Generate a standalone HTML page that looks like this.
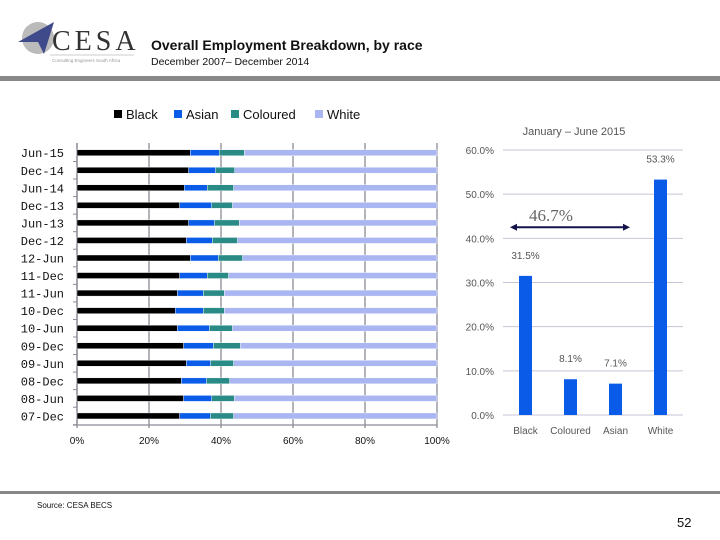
<!DOCTYPE html>
<html><head><meta charset="utf-8"><style>
body{margin:0;background:#fff;}
#wrap{position:relative;width:720px;height:540px;overflow:hidden;font-family:"Liberation Sans",sans-serif;}
</style></head><body>
<div id="wrap">
<svg id="svg" width="720" height="540" xmlns="http://www.w3.org/2000/svg">
  <g>
    <circle cx="38" cy="38" r="16" fill="#bbb"/>
    <polygon points="18,42 54,22 44,54 38,42" fill="#3f4a8a"/>
    <text x="52" y="50" font-family="Liberation Serif,serif" font-size="28" letter-spacing="4" fill="#333">CESA</text>
    <line x1="50" y1="55" x2="134" y2="55" stroke="#bbb" stroke-width="0.7"/>
    <text x="52" y="62" font-size="4.5" fill="#999">Consulting Engineers South Africa</text>
  </g>
  <text x="151" y="50" font-size="14" font-weight="bold" fill="#111">Overall Employment Breakdown, by race</text>
  <text x="151" y="65" font-size="10.5" fill="#111">December 2007– December 2014</text>
  <rect x="0" y="76" width="720" height="5" fill="#888"/>
  <g id="legend"></g>
  <g id="left"></g>
  <g id="right"></g>
  <rect x="0" y="491" width="720" height="3" fill="#888"/>
  <text x="37" y="508" font-size="8" fill="#111">Source: CESA BECS</text>
  <text x="677" y="527" font-size="13" fill="#111">52</text>
</svg>
</div>
<script>
const categories=["Jun-15","Dec-14","Jun-14","Dec-13","Jun-13","Dec-12","12-Jun","11-Dec","11-Jun","10-Dec","10-Jun","09-Dec","09-Jun","08-Dec","08-Jun","07-Dec"];
const blackVals=[31.5,31.0,29.8,28.5,31.0,30.4,31.5,28.5,27.9,27.3,27.9,29.6,30.4,29.0,29.6,28.5];
const asianVals=[8.0,7.5,6.4,8.9,7.2,7.2,7.8,7.7,7.2,7.8,8.9,8.3,6.7,7.0,7.8,8.6];
const colouredVals=[7.0,5.3,7.3,5.8,6.9,7.0,6.7,5.9,5.8,5.8,6.4,7.5,6.4,6.4,6.3,6.4];
const xTicks=[0,20,40,60,80,100];
const races=["Black","Asian","Coloured","White"];
const raceColors=["#000000","#0a5ce8","#2a8a86","#aab6f2"];
const rCats=["Black","Coloured","Asian","White"];
const rVals=[31.5,8.1,7.1,53.3];
const rLabels=["31.5%","8.1%","7.1%","53.3%"];
const yTicks=[0,10,20,30,40,50,60];

const NS="http://www.w3.org/2000/svg";
function mk(p,t,a,txt){const e=document.createElementNS(NS,t);for(const k in a)e.setAttribute(k,a[k]);if(txt!==undefined)e.textContent=txt;p.appendChild(e);return e;}

const lg=document.getElementById('legend');
const lgX=[114,174,231,315];
races.forEach((r,i)=>{
  const g=mk(lg,'g',{});
  
  
  mk(g,'rect',{x:lgX[i],y:110,width:8,height:8,fill:raceColors[i]});
  mk(g,'text',{x:lgX[i]+12,y:119,'font-size':13,fill:'#111'},r);
});

const L=document.getElementById('left');
const x0=77,x1=437,yTop=143,yBot=425;
const xs=v=>x0+(x1-x0)*v/100;
const rowY=i=>152.7+i*17.55;
xTicks.forEach(t=>{
  const ln=mk(L,'line',{x1:xs(t),x2:xs(t),y1:yTop,y2:yBot+3,stroke:'#8a8a96','stroke-width':1.3});
  
  
  const tx=mk(L,'text',{x:xs(t),y:444,'font-size':10,'text-anchor':'middle',fill:'#111'},t+'%');
  
  
});
mk(L,'line',{x1:x0,x2:x0,y1:yTop,y2:yBot,stroke:'#8a8a96','stroke-width':1.3});
mk(L,'line',{x1:x0-4,x2:x1,y1:yBot,y2:yBot,stroke:'#8a8a96','stroke-width':1.3});
categories.forEach((c,i)=>{
  const y=rowY(i);
  mk(L,'line',{x1:x0-4,x2:x0,y1:y+8.8,y2:y+8.8,stroke:'#8a8a96','stroke-width':1});
  const tl=mk(L,'text',{x:64,y:y+4.5,'font-size':12,'text-anchor':'end',fill:'#111','font-family':'Liberation Mono,monospace'},c);
  
  
  const vals=[blackVals[i],asianVals[i],colouredVals[i]];
  vals.push(100-vals[0]-vals[1]-vals[2]);
  let acc=0;
  vals.forEach((v,k)=>{
    const r=mk(L,'rect',{x:xs(acc),y:y-3,width:xs(acc+v)-xs(acc),height:6,fill:raceColors[k],stroke:'#fff','stroke-width':0.4});
    
    
    acc+=v;
  });
});

const R=document.getElementById('right');
const px0=503,px1=683,py0=415,py1=150;
const ys=v=>py0-(py0-py1)*v/60;
mk(R,'text',{x:574,y:135,'font-size':11,'text-anchor':'middle',fill:'#555'},'January – June 2015');
yTicks.forEach(t=>{
  const ln=mk(R,'line',{x1:px0,x2:px1,y1:ys(t),y2:ys(t),stroke:'#c4c6d8','stroke-width':1});
  
  
  const tx=mk(R,'text',{x:494,y:ys(t)+4,'font-size':10,'text-anchor':'end',fill:'#555'},t.toFixed(1)+'%');
  
  
});
const bw=(px1-px0)/rCats.length;
rCats.forEach((c,i)=>{
  const cx=px0+bw*(i+0.5);
  const b=mk(R,'rect',{x:cx-6.5,y:ys(rVals[i]),width:13,height:py0-ys(rVals[i]),fill:'#0a5ce8'});
  
  
  const vl=mk(R,'text',{x:cx,y:ys(rVals[i])-17,'font-size':10,'text-anchor':'middle',fill:'#555'},rLabels[i]);
  
  
  const cl=mk(R,'text',{x:cx,y:434,'font-size':10,'text-anchor':'middle',fill:'#555'},c);
  
  
});
const ay=ys(42.5);
const arrow=mk(R,'g',{});


mk(arrow,'line',{x1:513,x2:627,y1:ay,y2:ay,stroke:'#14144a','stroke-width':2});
mk(arrow,'polygon',{points:`510,${ay} 517,${ay-3.5} 517,${ay+3.5}`,fill:'#14144a'});
mk(arrow,'polygon',{points:`630,${ay} 623,${ay-3.5} 623,${ay+3.5}`,fill:'#14144a'});
const at=mk(R,'text',{x:551,y:221,'font-size':17,'text-anchor':'middle',fill:'#666','font-family':'Liberation Serif,serif'},'46.7%');


</script>
</body></html>
